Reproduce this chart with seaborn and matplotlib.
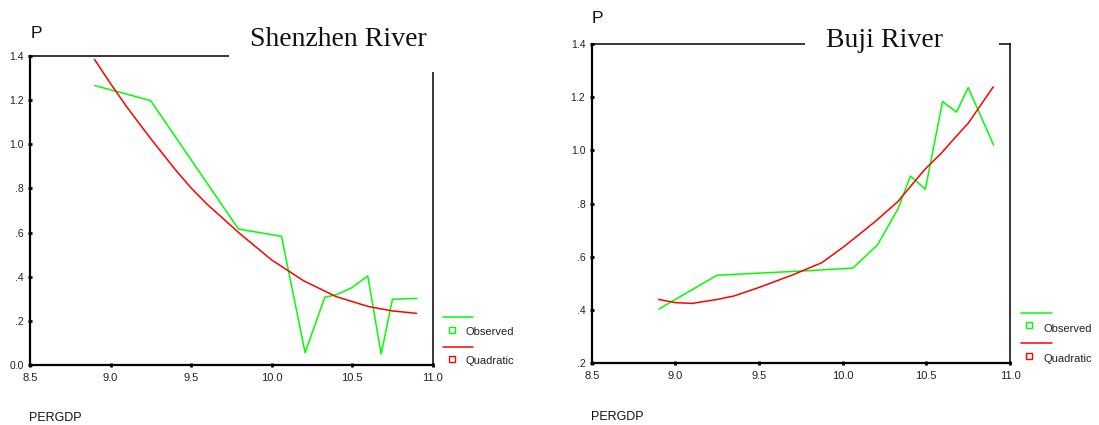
import numpy as np
import pandas as pd
import matplotlib
matplotlib.use("Agg")
import matplotlib.pyplot as plt
import seaborn as sns
from matplotlib.lines import Line2D
from matplotlib.patches import Rectangle
from matplotlib.ticker import FuncFormatter, FixedLocator

# ---------------- data ----------------
pergdp = [8.902, 9.249, 9.794, 10.061, 10.208, 10.330, 10.405, 10.494,
          10.597, 10.680, 10.750, 10.902]
shenzhen_obs = [1.266, 1.198, 0.616, 0.583, 0.056, 0.307, 0.319, 0.349,
                0.403, 0.050, 0.298, 0.302]
buji_obs = [0.404, 0.531, 0.548, 0.558, 0.645, 0.780, 0.904, 0.854,
            1.184, 1.144, 1.236, 1.020]

quad_x_sz = [8.90, 9.00, 9.10, 9.25, 9.40, 9.50, 9.60, 9.80, 10.00, 10.20,
             10.40, 10.60, 10.75, 10.90]
quad_sz = [1.385, 1.275, 1.170, 1.025, 0.887, 0.802, 0.728, 0.597, 0.476,
           0.381, 0.310, 0.265, 0.245, 0.234]

quad_x_bj = [8.90, 9.00, 9.10, 9.25, 9.35, 9.50, 9.70, 9.875, 10.00, 10.13,
             10.20, 10.33, 10.41, 10.49, 10.59, 10.68, 10.75, 10.90]
quad_bj = [0.440, 0.428, 0.425, 0.440, 0.453, 0.485, 0.532, 0.578, 0.635,
           0.700, 0.736, 0.808, 0.868, 0.928, 0.990, 1.054, 1.102, 1.239]

titles = ["Shenzhen River", "Buji River"]
x_ticks = [8.5, 9.0, 9.5, 10.0, 10.5, 11.0]
y_ticks_sz = [0.0, 0.2, 0.4, 0.6, 0.8, 1.0, 1.2, 1.4]
y_ticks_bj = [0.2, 0.4, 0.6, 0.8, 1.0, 1.2, 1.4]
legend_labels = ["Observed", "Quadratic"]

GREEN = "#00ff00"
RED = "#ff0000"

sns.set_style("white")
plt.rcParams["font.family"] = ["Liberation Sans", "DejaVu Sans"]

W, H = 1099, 425
fig = plt.figure(figsize=(W / 100, H / 100), dpi=100)


def fx(px):
    return px / W


def fy(py):
    return 1 - py / H


def spss_fmt(v, pos=None):
    if abs(v) < 1e-9:
        return "0.0"
    s = f"{v:.1f}"
    if s.startswith("0."):
        s = s[1:]
    return s


def make_axes(x0, x1, ytop, ybot):
    return fig.add_axes([fx(x0), fy(ybot), fx(x1) - fx(x0), fy(ytop) - fy(ybot)])


ax1 = make_axes(30, 432.7, 56, 365)
ax2 = make_axes(591.7, 1010, 44, 363.3)

panels = [
    (ax1, shenzhen_obs, quad_x_sz, quad_sz, y_ticks_sz, (0.0, 1.4)),
    (ax2, buji_obs, quad_x_bj, quad_bj, y_ticks_bj, (0.2, 1.4)),
]

for ax, obs, qx, qy, yt, ylim in panels:
    df_obs = pd.DataFrame({"PERGDP": pergdp, "P": obs})
    df_q = pd.DataFrame({"PERGDP": qx, "P": qy})
    sns.lineplot(data=df_obs, x="PERGDP", y="P", ax=ax, color=GREEN,
                 lw=1.1, errorbar=None)
    sns.lineplot(data=df_q, x="PERGDP", y="P", ax=ax, color=RED,
                 lw=1.1, errorbar=None)
    ax.set_xlim(8.5, 11.0)
    ax.set_ylim(*ylim)
    ax.xaxis.set_major_locator(FixedLocator(x_ticks))
    ax.yaxis.set_major_locator(FixedLocator(yt))
    ax.xaxis.set_major_formatter(FuncFormatter(lambda v, p: f"{v:.1f}"))
    ax.yaxis.set_major_formatter(FuncFormatter(spss_fmt))
    ax.tick_params(axis="both", which="major", bottom=True, left=True,
                   top=False, right=False, direction="inout", length=3.2,
                   width=2.0, color="black", labelcolor="#222222")
    ax.tick_params(axis="x", labelsize=8, pad=4)
    ax.tick_params(axis="y", labelsize=7.5, pad=3)
    ax.set_xlabel("")
    ax.set_ylabel("")
    ax.grid(False)
    for side in ["left", "bottom"]:
        ax.spines[side].set_linewidth(1.6)
        ax.spines[side].set_color("black")
    for side in ["top", "right"]:
        ax.spines[side].set_visible(True)
        ax.spines[side].set_linewidth(1.1)
        ax.spines[side].set_color("black")
    ax.set_facecolor("white")

# white title boxes that interrupt the frame (as in the SPSS output)
fig.add_artist(Rectangle((fx(229), fy(72)), fx(441) - fx(229), fy(0) - fy(72),
                         transform=fig.transFigure, facecolor="white",
                         edgecolor="none", zorder=2))
fig.add_artist(Rectangle((fx(805), fy(48)), fx(999) - fx(805), fy(15) - fy(48),
                         transform=fig.transFigure, facecolor="white",
                         edgecolor="none", zorder=2))

fig.text(fx(250), fy(46), titles[0], ha="left", va="baseline", fontsize=20,
         family=["Liberation Serif", "DejaVu Serif"], color="#111111", zorder=5)
fig.text(fx(826), fy(47), titles[1], ha="left", va="baseline", fontsize=20,
         family=["Liberation Serif", "DejaVu Serif"], color="#111111", zorder=5)

# axis titles
fig.text(fx(31), fy(38), "P", ha="left", va="baseline", fontsize=12.5, color="#111111")
fig.text(fx(592), fy(23), "P", ha="left", va="baseline", fontsize=12.5, color="#111111")
fig.text(fx(29), fy(421), "PERGDP", ha="left", va="baseline", fontsize=9, color="#111111")
fig.text(fx(591), fy(420), "PERGDP", ha="left", va="baseline", fontsize=9, color="#111111")

# legends (SPSS style: line swatch row, then marker + label row)
legend_specs = [
    # line x0, x1, marker x, text x, (line y, marker y, text y) for each series
    (443, 473, 452, 465, [(317, 330, 332), (347, 359, 361)]),
    (1021, 1052, 1029, 1043, [(313, 325, 329), (343, 356, 359)]),
]
for lx0, lx1, mx, tx, rows in legend_specs:
    for (ly, my, ty), col, lab in zip(rows, [GREEN, RED], legend_labels):
        fig.add_artist(Line2D([fx(lx0), fx(lx1)], [fy(ly), fy(ly)],
                              transform=fig.transFigure, color=col, lw=1.1))
        fig.add_artist(Line2D([fx(mx)], [fy(my)], transform=fig.transFigure,
                              marker="s", markersize=4, mfc="white", mec=col,
                              mew=1.0, linestyle="none"))
        fig.text(fx(tx), fy(ty), lab, ha="left", va="center", fontsize=8,
                 color="#222222")

fig.savefig("out.png", dpi=100, facecolor="white")
